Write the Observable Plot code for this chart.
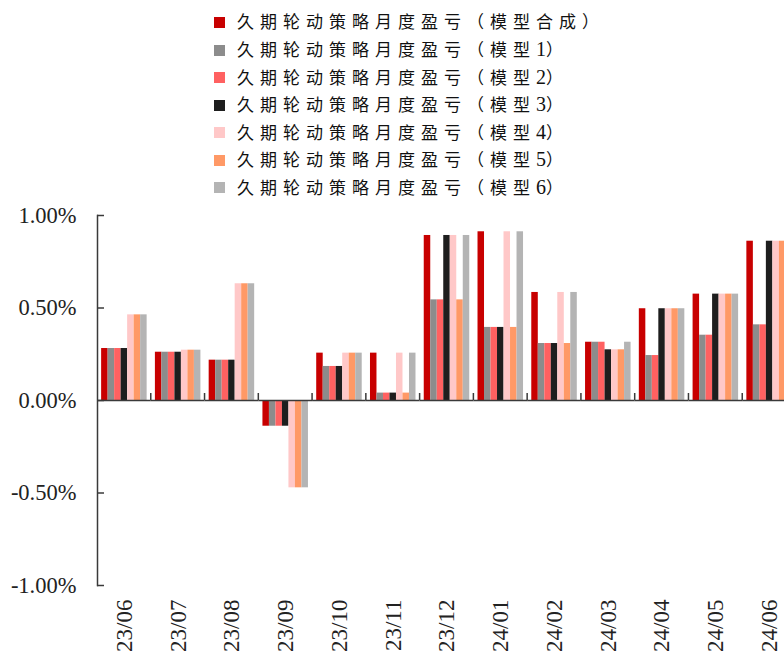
<!DOCTYPE html>
<html>
<head>
<meta charset="utf-8">
<script src="https://cdn.jsdelivr.net/npm/d3@7"></script>
<script src="https://cdn.jsdelivr.net/npm/@observablehq/plot@0.6"></script>
<style>
  html, body { margin: 0; padding: 0; background: #fff; overflow: hidden; }
  #wrap { width: 784px; height: 657px; overflow: hidden; position: relative; }
  #legend { height: 200px; box-sizing: border-box; padding-top: 9px; padding-left: 214px;
            font-family: "Liberation Serif", "Noto Sans CJK SC", serif; font-size: 17px; color: #111; }
  .row { height: 27.5px; line-height: 27.5px; white-space: nowrap; display: flex; align-items: center; }
  .sw { width: 11px; height: 11px; margin-right: 12px; flex: none; }
  .lab { letter-spacing: 6px; }
  .lab .d { letter-spacing: 0; font-size: 20px; }
  #chart svg { max-width: none !important; font-family: "Liberation Serif", serif; }
  #chart svg text { font-family: "Liberation Serif", serif; }
</style>
</head>
<body>
<div id="wrap">
  <div id="legend"></div>
  <div id="chart"></div>
</div>
<script>
const months = ["23/06","23/07","23/08","23/09","23/10","23/11","23/12","24/01","24/02","24/03","24/04","24/05","24/06"];
const models = [
  "久期轮动策略月度盈亏（模型合成）",
  "久期轮动策略月度盈亏（模型1）",
  "久期轮动策略月度盈亏（模型2）",
  "久期轮动策略月度盈亏（模型3）",
  "久期轮动策略月度盈亏（模型4）",
  "久期轮动策略月度盈亏（模型5）",
  "久期轮动策略月度盈亏（模型6）"
];
const colors = ["#C80000", "#8C8C8C", "#FF6161", "#1E1E1E", "#FFC8C8", "#FF9966", "#B4B4B4"];

// values in percent
const composite = [0.281, 0.261, 0.218, -0.139, 0.256, 0.256, 0.892, 0.912, 0.584, 0.315, 0.496, 0.575, 0.861];
const model1    = [0.281, 0.261, 0.218, -0.139, 0.184, 0.040, 0.544, 0.395, 0.308, 0.315, 0.243, 0.353, 0.409];
const model2    = [0.281, 0.261, 0.218, -0.139, 0.184, 0.040, 0.544, 0.395, 0.308, 0.315, 0.243, 0.353, 0.409];
const model3    = [0.281, 0.261, 0.218, -0.139, 0.184, 0.040, 0.892, 0.395, 0.308, 0.274, 0.496, 0.575, 0.861];
const model4    = [0.463, 0.272, 0.631, -0.472, 0.256, 0.256, 0.892, 0.912, 0.584, 0.274, 0.496, 0.575, 0.861];
const model5    = [0.463, 0.272, 0.631, -0.472, 0.256, 0.040, 0.544, 0.395, 0.308, 0.274, 0.496, 0.575, 0.861];
const model6    = [0.463, 0.272, 0.631, -0.472, 0.256, 0.256, 0.892, 0.912, 0.584, 0.315, 0.496, 0.575, 0.861];
const yTicks = [-1, -0.5, 0, 0.5, 1];

const series = [composite, model1, model2, model3, model4, model5, model6];
const data = months.flatMap((m, i) => models.map((k, j) => ({month: m, model: k, value: series[j][i]})));

// legend
const legend = document.getElementById("legend");
models.forEach((k, j) => {
  const row = document.createElement("div");
  row.className = "row";
  const sw = document.createElement("span");
  sw.className = "sw";
  sw.style.background = colors[j];
  const lab = document.createElement("span");
  lab.className = "lab";
  const m = k.match(/^(.*?)(\d)(.*)$/);
  if (m) {
    lab.appendChild(document.createTextNode(m[1]));
    const d = document.createElement("span");
    d.className = "d";
    d.textContent = m[2];
    lab.appendChild(d);
    lab.appendChild(document.createTextNode(m[3]));
  } else {
    lab.textContent = k;
  }
  row.appendChild(sw);
  row.appendChild(lab);
  legend.appendChild(row);
});

const axisColor = "#3a3a3a";
const plot = Plot.plot({
  width: 800,
  height: 457,
  marginTop: 15,
  marginBottom: 72,
  marginLeft: 97,
  marginRight: 4,
  style: {fontFamily: "Liberation Serif, serif", color: "#222", background: "transparent", maxWidth: "none"},
  fx: {domain: months, paddingInner: 0, paddingOuter: 0, round: false},
  x: {domain: models, paddingInner: 0, paddingOuter: 0.635, round: false, axis: null},
  y: {domain: [-1, 1]},
  color: {domain: models, range: colors},
  marks: [
    Plot.barY(data, {fx: "month", x: "model", y: "value", fill: "model"}),
    Plot.ruleY([0], {stroke: axisColor, strokeWidth: 1.5}),
    Plot.frame({anchor: "left", facetAnchor: "left", stroke: axisColor, strokeWidth: 1.5}),
    Plot.axisY({ticks: yTicks, tickFormat: d => d.toFixed(2) + "%", tickSize: 7, dx: 7, tickPadding: 21,
                fontSize: 22.5, stroke: axisColor, strokeWidth: 1.5, fill: "#222", label: null}),
    Plot.axisFx({anchor: "bottom", tickRotate: -90, tickSize: 0, tickPadding: 14, fontSize: 23, fill: "#222", label: null})
  ]
});
document.getElementById("chart").appendChild(plot);

// small category boundary ticks on the zero line, placed with Plot's own scales
const fx = plot.scale("fx");
const y = plot.scale("y");
const svg = d3.select(plot);
const g = svg.append("g").attr("stroke", axisColor).attr("stroke-width", 1.5);
months.slice(1).forEach(m => {
  const xpos = fx.apply(m);
  g.append("line")
    .attr("x1", xpos).attr("x2", xpos)
    .attr("y1", y.apply(0)).attr("y2", y.apply(0) - 7);
});
</script>
</body>
</html>
